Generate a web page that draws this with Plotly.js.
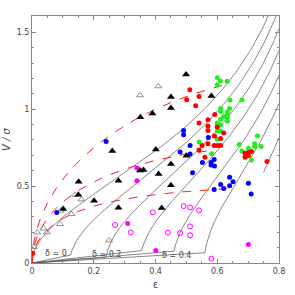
<!DOCTYPE html>
<html><head><meta charset="utf-8">
<script src="https://cdn.plot.ly/plotly-3.0.1.min.js"></script>
<style>html,body{margin:0;padding:0;background:#fff}#chart{width:295px;height:295px}</style>
</head><body><div id="chart"></div>
<script>
// ---- data ----
const blackTriEps = [0.499,0.450,0.581,0.450,0.390,0.351,0.260,0.401,0.500,0.450,0.410,0.350,0.361,0.280,0.151,0.150,0.201,0.101,0.450,0.420,0.280];
const blackTriV   = [1.225,1.080,1.086,1.008,0.972,0.948,0.728,0.738,0.698,0.644,0.578,0.601,0.605,0.534,0.528,0.443,0.405,0.351,0.506,0.357,0.359];
const openTriEps = [0.409,0.350,0.139,0.160,0.128,0.091,0.037,0.017,0.048,0.250,0.006,0.093];
const openTriV   = [1.149,1.091,0.443,0.414,0.318,0.253,0.225,0.199,0.199,0.147,0.104,0.340];
const redEps = [0.511,0.541,0.501,0.530,0.592,0.570,0.541,0.570,0.600,0.570,0.621,0.591,0.611,0.570,0.551,0.590,0.600,0.611,0.541,0.560,0.690,0.701,0.711,0.690,0.701,0.761,0.002];
const redV   = [1.127,1.082,1.062,1.023,0.965,0.932,0.911,0.891,0.885,0.861,0.846,0.825,0.809,0.775,0.764,0.764,0.764,0.764,0.735,0.688,0.714,0.718,0.725,0.688,0.697,0.660,0.063];
const greenEps = [0.600,0.610,0.600,0.632,0.641,0.680,0.611,0.640,0.611,0.633,0.633,0.633,0.633,0.621,0.611,0.600,0.611,0.600,0.600,0.611,0.600,0.541,0.671,0.730,0.721,0.721,0.742,0.701,0.582,0.680,0.711];
const greenV   = [1.205,1.184,1.158,1.182,1.060,1.060,1.004,1.004,0.985,0.982,0.962,0.945,0.922,0.952,0.935,0.911,0.897,0.893,0.858,0.858,0.805,0.786,0.770,0.826,0.775,0.757,0.757,0.744,0.710,0.729,0.669];
const blueEps = [0.240,0.491,0.491,0.571,0.512,0.480,0.512,0.590,0.552,0.580,0.580,0.591,0.520,0.640,0.651,0.611,0.640,0.621,0.590,0.701,0.710,0.080];
const blueV   = [0.790,0.861,0.834,0.816,0.764,0.721,0.709,0.673,0.653,0.653,0.638,0.630,0.586,0.558,0.528,0.510,0.502,0.484,0.478,0.519,0.448,0.329];
const magFillEps = [0.340,0.340,0.310,0.401,0.701];
const magFillV   = [0.617,0.534,0.257,0.082,0.121];
const magOpenEps = [0.491,0.512,0.541,0.391,0.512,0.440,0.480,0.512,0.581,0.269,0.320];
const magOpenV   = [0.370,0.361,0.342,0.329,0.238,0.197,0.195,0.180,0.028,0.247,0.199];

// model parameters
const deltaValues   = [0,0.1,0.2,0.3,0.4,0.5,0.6];
const curveStartEps = [0,0,0,0,0,0,0.75];
const trackEpsIntr = [0.63,0.59,0.65];
const trackDelta   = [0.0,0.28,0.5];
const labelText = ['δ = 0','δ = 0.2','δ = 0.4'];
const labelEps  = [0.077,0.242,0.469];
const labelV    = [0.065,0.054,0.047];

// ---- model curves (Binney relation) ----
function omega(eps){
  const e = Math.sqrt(1-(1-eps)*(1-eps));
  const s = Math.sqrt(1-e*e), as = Math.asin(e);
  return 0.5*(as - e*s)/(e*s - (1-e*e)*as);
}
function vsig(eps, d){ if(eps<=0) return 0; const q=(1-d)*omega(eps)-1; return q>=0?Math.sqrt(q):NaN; }

const traces = [];
deltaValues.forEach((d,j)=>{
  const xs=[],ys=[];
  for(let k=0;k<=160;k++){const ep=k*0.005; if(ep<curveStartEps[j]-1e-9) continue; const v=vsig(ep,d); if(!isNaN(v)){xs.push(ep);ys.push(v);} }
  traces.push({x:xs,y:ys,mode:'lines',line:{color:'#555',width:0.7},hoverinfo:'skip',showlegend:false});
});
trackEpsIntr.forEach((ei,j)=>{
  const d=trackDelta[j]; const v0=vsig(ei,d); const e2=1-(1-ei)*(1-ei);
  const xs=[],ys=[];
  for(let k=0;k<=180;k++){
    const inc=k*Math.PI/360; const s2=Math.sin(inc)**2;
    xs.push(1-Math.sqrt(1-e2*s2));
    ys.push(v0*Math.sin(inc)/Math.sqrt(1-d*Math.cos(inc)**2));
  }
  traces.push({x:xs,y:ys,mode:'lines',line:{color:'#ff2020',width:1,dash:'dash'},hoverinfo:'skip',showlegend:false});
});
function pts(x,y,sym,size,color,lineColor,lw){
  return {x:x,y:y,mode:'markers',showlegend:false,
    marker:{symbol:sym,size:size,color:color,line:{color:lineColor,width:lw}}};
}
traces.push(pts(magOpenEps,magOpenV,'circle-open',5,'#ff00ff','#ff00ff',1));
traces.push(pts(openTriEps,openTriV,'triangle-up-open',6,'#777','#777',0.8));
traces.push(pts(blueEps,blueV,'circle',5,'#0000ff','#0000ff',0));
traces.push(pts(magFillEps,magFillV,'circle',5,'#ff00ff','#ff00ff',0));
traces.push(pts(greenEps,greenV,'circle',5,'#22ee22','#22ee22',0));
traces.push(pts(redEps,redV,'circle',5,'#ff0000','#ff0000',0));
traces.push(pts(blackTriEps,blackTriV,'triangle-up',7,'#000','#000',0));

const annotations = labelText.map((t,i)=>({x:labelEps[i],y:labelV[i],xref:'x',yref:'y',text:t,showarrow:false,font:{family:'DejaVu Sans, sans-serif',size:8,color:'#444'}}));

const axisCommon = {showgrid:false,zeroline:false,showline:true,linecolor:'#888',linewidth:1,mirror:'allticks',
  ticks:'inside',ticklen:4,tickcolor:'#888',tickfont:{family:'DejaVu Sans, sans-serif',size:8,color:'#444'}};
const layout = {
  width:295,height:295,margin:{l:32,r:16,t:16,b:32},paper_bgcolor:'#fff',plot_bgcolor:'#fff',
  xaxis:Object.assign({},axisCommon,{range:[0,0.8],tickvals:[0,0.2,0.4,0.6,0.8],ticktext:['0','0.2','0.4','0.6','0.8'],
    minor:{dtick:0.05,ticks:'inside',ticklen:2,tickcolor:'#888'},
    title:{text:'ε',font:{family:'DejaVu Sans, sans-serif',size:10,color:'#444'},standoff:6}}),
  yaxis:Object.assign({},axisCommon,{range:[0,1.606],tickvals:[0,0.5,1,1.5],ticktext:['0','0.5','1','1.5'],
    minor:{dtick:0.1,ticks:'inside',ticklen:2,tickcolor:'#888'},
    title:{text:'<i>V / σ</i>',font:{family:'DejaVu Sans, sans-serif',size:10,color:'#444'},standoff:4}}),
  annotations:annotations
};
Plotly.newPlot('chart',traces,layout,{displayModeBar:false,staticPlot:true});
</script></body></html>
